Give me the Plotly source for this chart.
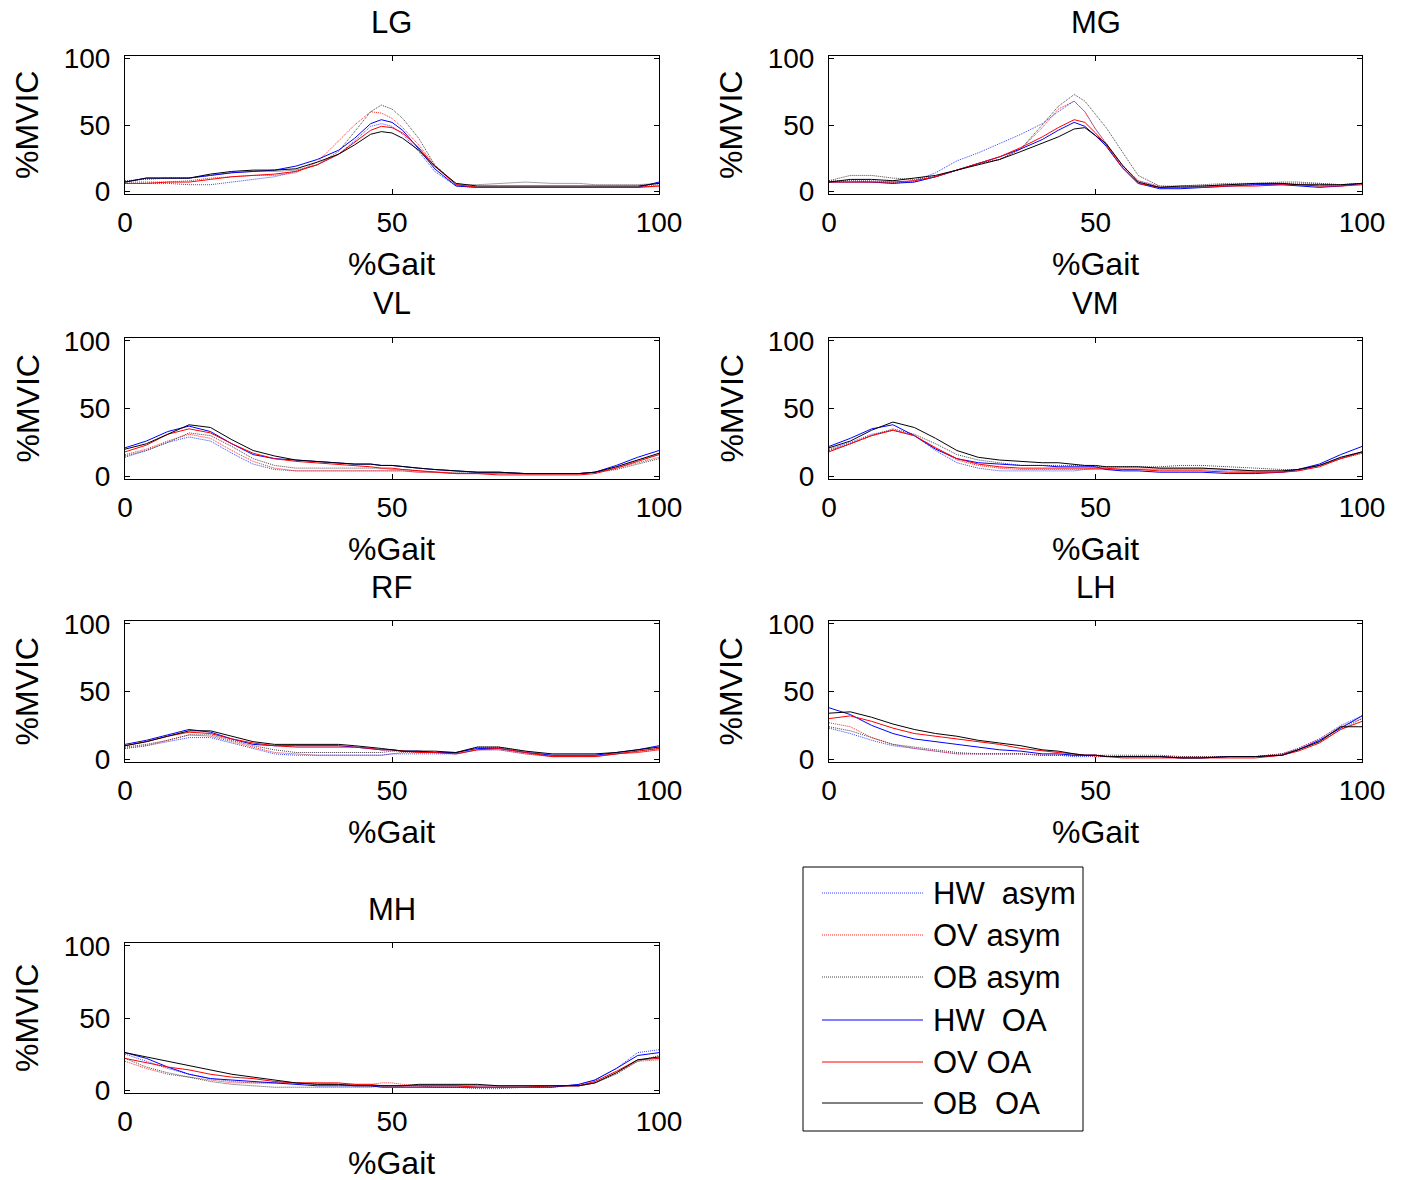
import plotly.graph_objects as go

W, H = 1408, 1180
FONT = "Liberation Sans, Arial, sans-serif"

# Gait cycle sample points (% of stride)
gait = [0, 4, 8, 12, 16, 20, 24, 28, 32, 36, 40, 43, 46, 48, 50, 52, 55, 58, 62, 66, 70, 75, 80, 85, 88, 92, 96, 100]

series = ["HW asym", "OV asym", "OB asym", "HW OA", "OV OA", "OB OA"]
key_labels = ["HW&nbsp; asym", "OV asym", "OB asym", "HW&nbsp; OA", "OV OA", "OB&nbsp; OA"]
muscles = ["LG", "MG", "VL", "VM", "RF", "LH", "MH"]

# Lateral gastrocnemius (%MVIC)
lg_hw_asym = [6, 6, 6, 5, 5, 7, 9, 11, 15, 20, 28, 38, 49, 51, 49, 43, 30, 15, 4, 3, 3, 3, 3, 3, 3, 3, 3, 5]
lg_ov_asym = [7, 7, 7, 8, 10, 11, 12, 12, 14, 22, 38, 50, 60, 59, 55, 48, 35, 20, 5, 3, 3, 3, 3, 3, 3, 3, 3, 4]
lg_ob_asym = [8, 9, 10, 10, 12, 14, 15, 15, 16, 20, 30, 45, 60, 65, 62, 55, 40, 20, 5, 5, 6, 7, 6, 6, 5, 5, 5, 6]
lg_hw_oa = [7, 10, 10, 10, 12, 14, 15, 16, 19, 24, 31, 40, 51, 54, 52, 46, 32, 17, 4, 3, 3, 3, 3, 3, 3, 3, 3, 7]
lg_ov_oa = [6, 6, 7, 7, 9, 11, 12, 13, 15, 20, 28, 37, 46, 49, 48, 44, 33, 19, 5, 3, 3, 3, 3, 3, 3, 3, 3, 4]
lg_ob_oa = [7, 10, 10, 10, 13, 15, 16, 16, 17, 22, 28, 35, 43, 45, 44, 40, 31, 19, 6, 4, 4, 4, 4, 4, 4, 4, 4, 6]

# Medial gastrocnemius
mg_hw_asym = [7, 8, 7, 6, 8, 14, 23, 29, 36, 43, 51, 60, 68, 60, 47, 36, 19, 8, 3, 3, 4, 5, 5, 6, 5, 4, 5, 6]
mg_ov_asym = [8, 8, 8, 7, 7, 11, 16, 21, 24, 32, 48, 62, 68, 60, 47, 36, 20, 8, 4, 3, 4, 5, 5, 6, 6, 6, 5, 5]
mg_ob_asym = [8, 12, 12, 10, 9, 11, 16, 21, 24, 32, 50, 64, 73, 68, 58, 48, 30, 12, 4, 4, 5, 6, 6, 7, 7, 6, 5, 6]
mg_hw_oa = [7, 7, 7, 6, 7, 11, 16, 21, 26, 32, 39, 46, 52, 49, 42, 34, 18, 6, 2, 2, 3, 4, 5, 5, 4, 3, 4, 6]
mg_ov_oa = [7, 7, 7, 7, 8, 11, 16, 21, 26, 33, 41, 48, 54, 52, 44, 35, 18, 6, 3, 3, 3, 4, 4, 5, 5, 4, 4, 5]
mg_ob_oa = [7, 9, 9, 8, 10, 12, 16, 20, 24, 30, 36, 41, 47, 48, 42, 36, 20, 7, 3, 4, 4, 5, 6, 6, 5, 5, 5, 6]

# Vastus lateralis
vl_hw_asym = [14, 19, 25, 29, 26, 17, 9, 5, 4, 4, 4, 4, 4, 4, 4, 4, 3, 3, 2, 2, 2, 2, 2, 2, 3, 7, 12, 16]
vl_ov_asym = [16, 20, 26, 31, 28, 19, 11, 6, 4, 4, 4, 4, 4, 4, 4, 4, 3, 3, 2, 2, 2, 2, 2, 2, 3, 6, 10, 14]
vl_ob_asym = [15, 19, 25, 32, 30, 22, 13, 8, 6, 6, 6, 6, 6, 6, 5, 5, 4, 3, 3, 3, 3, 2, 2, 2, 3, 5, 9, 13]
vl_hw_oa = [21, 26, 33, 37, 33, 24, 16, 13, 12, 11, 10, 9, 9, 8, 8, 7, 6, 5, 4, 3, 3, 2, 2, 2, 3, 8, 14, 19]
vl_ov_oa = [18, 23, 31, 35, 32, 24, 17, 13, 11, 10, 9, 8, 7, 6, 6, 5, 4, 3, 2, 2, 1, 1, 1, 1, 2, 6, 11, 16]
vl_ob_oa = [20, 24, 31, 38, 36, 27, 19, 15, 12, 11, 10, 9, 9, 8, 8, 7, 6, 5, 4, 3, 3, 2, 2, 2, 3, 7, 12, 17]

# Vastus medialis
vm_hw_asym = [20, 25, 31, 34, 30, 19, 10, 6, 4, 4, 4, 4, 4, 5, 5, 5, 5, 5, 5, 5, 5, 4, 3, 3, 4, 8, 14, 18]
vm_ov_asym = [19, 24, 30, 34, 30, 21, 12, 8, 6, 5, 5, 5, 5, 5, 6, 6, 6, 6, 6, 6, 6, 5, 4, 4, 5, 8, 13, 17]
vm_ob_asym = [19, 24, 30, 35, 31, 24, 16, 12, 10, 8, 8, 8, 8, 8, 7, 7, 7, 7, 7, 8, 8, 7, 6, 5, 5, 8, 13, 17]
vm_hw_oa = [22, 28, 35, 38, 30, 20, 13, 10, 9, 8, 8, 7, 7, 7, 7, 5, 4, 4, 3, 3, 3, 2, 2, 3, 5, 9, 16, 22]
vm_ov_oa = [18, 24, 30, 34, 30, 21, 13, 9, 7, 6, 6, 6, 6, 6, 6, 6, 5, 5, 4, 4, 4, 3, 3, 3, 4, 7, 13, 18]
vm_ob_oa = [21, 26, 34, 40, 36, 28, 19, 14, 12, 11, 10, 10, 9, 8, 8, 7, 7, 7, 6, 6, 6, 5, 4, 4, 5, 8, 14, 18]

# Rectus femoris
rf_hw_asym = [8, 10, 13, 16, 16, 12, 8, 4, 3, 3, 3, 3, 3, 3, 4, 4, 4, 4, 4, 7, 7, 4, 2, 2, 2, 4, 5, 7]
rf_ov_asym = [8, 10, 14, 18, 17, 13, 9, 5, 4, 3, 3, 3, 3, 3, 4, 5, 5, 5, 4, 7, 7, 4, 2, 2, 2, 4, 5, 7]
rf_ob_asym = [9, 11, 14, 18, 18, 14, 10, 7, 5, 5, 5, 5, 5, 5, 6, 6, 6, 5, 5, 9, 9, 6, 3, 3, 3, 4, 6, 8]
rf_hw_oa = [11, 14, 18, 22, 20, 15, 11, 10, 10, 10, 10, 9, 8, 7, 7, 6, 6, 5, 5, 8, 8, 5, 3, 3, 3, 5, 7, 10]
rf_ov_oa = [10, 13, 17, 20, 19, 15, 12, 10, 9, 9, 9, 9, 8, 7, 7, 6, 5, 5, 4, 7, 8, 5, 2, 2, 2, 4, 6, 8]
rf_ob_oa = [10, 13, 17, 21, 21, 17, 13, 11, 11, 11, 11, 10, 9, 8, 7, 6, 6, 6, 5, 9, 9, 6, 4, 4, 4, 5, 7, 9]

# Lateral hamstrings
lh_hw_asym = [23, 19, 14, 10, 8, 6, 4, 4, 4, 4, 3, 3, 2, 2, 2, 2, 2, 2, 2, 2, 2, 2, 2, 4, 8, 15, 25, 32]
lh_ov_asym = [27, 24, 16, 11, 8, 6, 4, 4, 4, 4, 3, 3, 3, 3, 2, 2, 2, 2, 2, 2, 2, 2, 2, 4, 8, 15, 24, 30]
lh_ob_asym = [24, 21, 16, 11, 9, 7, 5, 4, 4, 4, 3, 3, 3, 3, 3, 3, 3, 3, 3, 2, 2, 2, 2, 4, 7, 13, 22, 30]
lh_hw_oa = [38, 33, 25, 19, 15, 13, 11, 9, 7, 6, 4, 4, 3, 3, 3, 2, 2, 2, 2, 1, 1, 2, 2, 3, 7, 14, 23, 32]
lh_ov_oa = [30, 32, 28, 23, 19, 17, 15, 13, 11, 8, 6, 5, 4, 3, 3, 2, 1, 1, 1, 1, 1, 1, 1, 3, 6, 12, 22, 28]
lh_ob_oa = [34, 35, 31, 26, 22, 19, 17, 14, 12, 10, 7, 6, 4, 3, 3, 2, 2, 2, 2, 1, 1, 2, 2, 3, 7, 13, 24, 24]

# Medial hamstrings
mh_hw_asym = [25, 20, 15, 11, 8, 6, 5, 5, 5, 4, 4, 4, 3, 3, 3, 3, 3, 2, 2, 1, 1, 2, 2, 4, 7, 15, 26, 28]
mh_ov_asym = [20, 15, 11, 9, 7, 5, 5, 5, 5, 5, 4, 4, 4, 5, 5, 4, 3, 3, 3, 3, 3, 3, 3, 3, 5, 12, 20, 21]
mh_ob_asym = [22, 16, 12, 9, 6, 4, 3, 2, 2, 2, 2, 2, 2, 3, 3, 3, 3, 3, 3, 3, 3, 3, 3, 3, 5, 11, 20, 24]
mh_hw_oa = [26, 22, 16, 11, 8, 7, 6, 5, 4, 3, 3, 3, 3, 2, 2, 2, 2, 2, 2, 2, 2, 2, 2, 4, 7, 15, 24, 26]
mh_ov_oa = [22, 19, 16, 14, 11, 9, 8, 6, 5, 5, 5, 4, 4, 3, 3, 3, 3, 3, 3, 2, 2, 2, 3, 3, 6, 13, 21, 22]
mh_ob_oa = [26, 23, 20, 17, 14, 11, 9, 7, 5, 4, 4, 3, 3, 3, 3, 3, 4, 4, 4, 4, 3, 3, 3, 3, 5, 12, 21, 23]

emg = {
    "LG": [lg_hw_asym, lg_ov_asym, lg_ob_asym, lg_hw_oa, lg_ov_oa, lg_ob_oa],
    "MG": [mg_hw_asym, mg_ov_asym, mg_ob_asym, mg_hw_oa, mg_ov_oa, mg_ob_oa],
    "VL": [vl_hw_asym, vl_ov_asym, vl_ob_asym, vl_hw_oa, vl_ov_oa, vl_ob_oa],
    "VM": [vm_hw_asym, vm_ov_asym, vm_ob_asym, vm_hw_oa, vm_ov_oa, vm_ob_oa],
    "RF": [rf_hw_asym, rf_ov_asym, rf_ob_asym, rf_hw_oa, rf_ov_oa, rf_ob_oa],
    "LH": [lh_hw_asym, lh_ov_asym, lh_ob_asym, lh_hw_oa, lh_ov_oa, lh_ob_oa],
    "MH": [mh_hw_asym, mh_ov_asym, mh_ob_asym, mh_hw_oa, mh_ov_oa, mh_ob_oa],
}

# Line styles: group colour, dotted for asymptomatic, solid for OA
styles = [
    dict(color="#3344ff", width=1, dash="1px,1px"),
    dict(color="#ff2222", width=1, dash="1px,1px"),
    dict(color="#444444", width=1, dash="1px,1px"),
    dict(color="#0000ff", width=1, dash="solid"),
    dict(color="#ff0000", width=1, dash="solid"),
    dict(color="#000000", width=1, dash="solid"),
]

# Panel boxes in pixels: (left, right, top, bottom)
cols = [(125, 659), (829, 1362)]
rows = [(56, 194), (338, 479), (621, 762), (943, 1093)]
panel_pos = [(0, 0), (0, 1), (1, 0), (1, 1), (2, 0), (2, 1), (3, 0)]


def px(x):
    return x / W


def py(y):
    return 1 - y / H


fig = go.Figure()
layout = dict(
    width=W, height=H,
    margin=dict(l=0, r=0, t=0, b=0, autoexpand=False),
    paper_bgcolor="white", plot_bgcolor="white",
    showlegend=False,
    font=dict(family=FONT, size=28, color="black"),
)
annotations = []
shapes = []

axis_common = dict(
    showline=True, linecolor="black", linewidth=1, mirror="ticks",
    ticks="inside", ticklen=5, tickcolor="black", tickwidth=1,
    showgrid=False, zeroline=False, automargin=False,
    tickfont=dict(family=FONT, size=28, color="black"),
    fixedrange=True,
)

for i, (m, (r, c)) in enumerate(zip(muscles, panel_pos)):
    k = "" if i == 0 else str(i + 1)
    x0, x1 = cols[c]
    y0, y1 = rows[r]
    layout["xaxis" + k] = dict(
        axis_common, domain=[px(x0), px(x1)], range=[0, 100],
        tickvals=[0, 50, 100], anchor="y" + k, ticklabelstandoff=3,
    )
    layout["yaxis" + k] = dict(
        axis_common, domain=[py(y1), py(y0)], range=[-2, 102],
        tickvals=[0, 50, 100], anchor="x" + k, ticklabelstandoff=8,
    )
    for name, vals, st in zip(series, emg[m], styles):
        fig.add_trace(go.Scatter(
            x=gait, y=vals, mode="lines", name=name, line=st,
            xaxis="x" + k, yaxis="y" + k, showlegend=False,
        ))
    xc = (x0 + x1) / 2
    # panel title
    annotations.append(dict(text=m, x=px(xc), y=py(y0 - 34), xref="paper", yref="paper",
                            xanchor="center", yanchor="middle", showarrow=False,
                            font=dict(family=FONT, size=31, color="black")))
    # x-axis title
    annotations.append(dict(text="%Gait", x=px(xc), y=py(y1 + 70), xref="paper", yref="paper",
                            xanchor="center", yanchor="middle", showarrow=False,
                            font=dict(family=FONT, size=32, color="black")))
    # y-axis title
    annotations.append(dict(text="%MVIC", x=px(x0 - 98), y=py((y0 + y1) / 2), xref="paper", yref="paper",
                            xanchor="center", yanchor="middle", showarrow=False, textangle=-90,
                            font=dict(family=FONT, size=32, color="black")))

# Key in the empty eighth cell
lx0, lx1, ly0, ly1 = 803, 1083, 867, 1131
shapes.append(dict(type="rect", xref="paper", yref="paper",
                   x0=px(lx0), x1=px(lx1), y0=py(ly1), y1=py(ly0),
                   line=dict(color="black", width=1), fillcolor="white", layer="above"))
key_rows = [893, 935, 977, 1020, 1062, 1103]
for label, st, yy in zip(key_labels, styles, key_rows):
    shapes.append(dict(type="line", xref="paper", yref="paper",
                       x0=px(822), x1=px(923), y0=py(yy), y1=py(yy),
                       line=dict(color=st["color"], width=1, dash=st["dash"]), layer="above"))
    annotations.append(dict(text=label, x=px(931), y=py(yy), xref="paper", yref="paper",
                            xanchor="left", yanchor="middle", showarrow=False,
                            font=dict(family=FONT, size=31, color="black")))

layout["annotations"] = annotations
layout["shapes"] = shapes
fig.update_layout(**layout)
fig.write_html("out.html")
